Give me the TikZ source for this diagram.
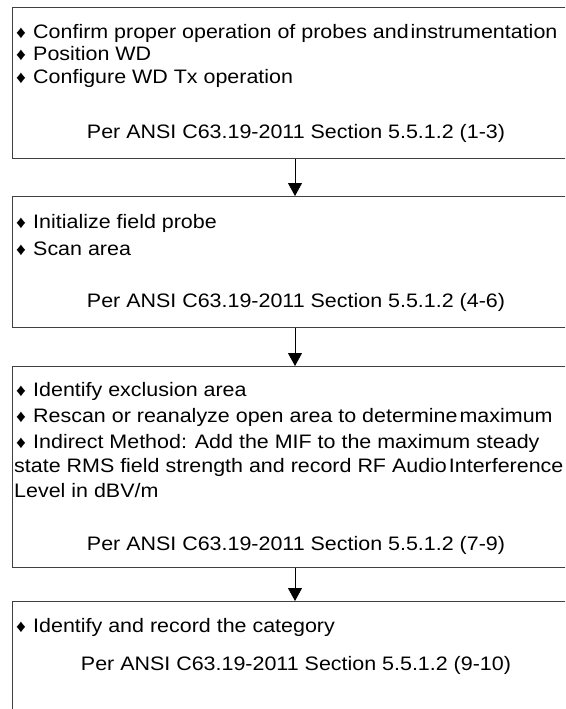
\documentclass[tikz,border=0pt]{standalone}
\usepackage{fontspec}
\setmainfont{Liberation Sans}[FakeStretch=1.1]
\usetikzlibrary{positioning}
\usetikzlibrary{calc}
\usetikzlibrary{arrows.meta}

\tikzset{
  stepbox/.style={draw=black!75, line width=1pt, anchor=north west, inner sep=0pt, minimum width=600pt},
  txt/.style={anchor=base west, inner sep=0pt, font=\fontsize{19.5}{22.5}\selectfont},
  pertxt/.style={anchor=base, inner sep=0pt, font=\fontsize{19.5}{22.5}\selectfont},
  flow/.style={-{Triangle[width=14pt,length=13pt]}, line width=0.8pt}
}
\newcommand{\dia}{\makebox[19pt][l]{\hspace{2pt}\scalebox{0.9}{♦}}}
\newcommand{\tsp}{\hspace{2pt}}

\begin{document}
\begin{tikzpicture}[x=1pt,y=-1pt]
    \useasboundingbox (0,0) rectangle (565,709);
    \clip (0,0) rectangle (565,709);

    % Draw boxes
    \node[stepbox, minimum height=151pt] (box1) at (12,7) {};
    \node[stepbox, minimum height=131pt] (box2) at (12,196) {};
    \node[stepbox, minimum height=201pt] (box3) at (12,366) {};
    \node[stepbox, minimum height=140pt] (box4) at (12,601) {};

    % Bullet lines
    \foreach \y/\t [count=\k] in {
        38/{\dia Confirm proper operation of probes and\tsp instrumentation},
        61/{\dia Position WD},
        83/{\dia Configure WD Tx operation},
        228/{\dia Initialize field probe},
        255/{\dia Scan area},
        396/{\dia Identify exclusion area},
        422/{\dia Rescan or reanalyze open area to determine\tsp maximum},
        448/{\dia Indirect Method: Add the MIF to the maximum steady},
        472/{state RMS field strength and record RF Audio\tsp Interference},
        497/{Level in dBV/m},
        632/{\dia Identify and record the category}} {
        \node[txt] (line\k) at (14,\y) {\t};
    }

    % Reference lines
    \node[pertxt] (per1) at (296,138) {Per ANSI C63.19-2011 Section 5.5.1.2 (1-3)};
    \node[pertxt] (per2) at (296,307) {Per ANSI C63.19-2011 Section 5.5.1.2 (4-6)};
    \node[pertxt] (per3) at (296,550) {Per ANSI C63.19-2011 Section 5.5.1.2 (7-9)};
    \node[pertxt] (per4) at (296,670) {Per ANSI C63.19-2011 Section 5.5.1.2 (9-10)};

    % Draw arrows
    \coordinate (ax) at (295,0);
    \draw[flow] (box1.south -| ax) -- (box2.north -| ax);
    \draw[flow] (box2.south -| ax) -- (box3.north -| ax);
    \draw[flow] (box3.south -| ax) -- (box4.north -| ax);

\end{tikzpicture}
\end{document}
